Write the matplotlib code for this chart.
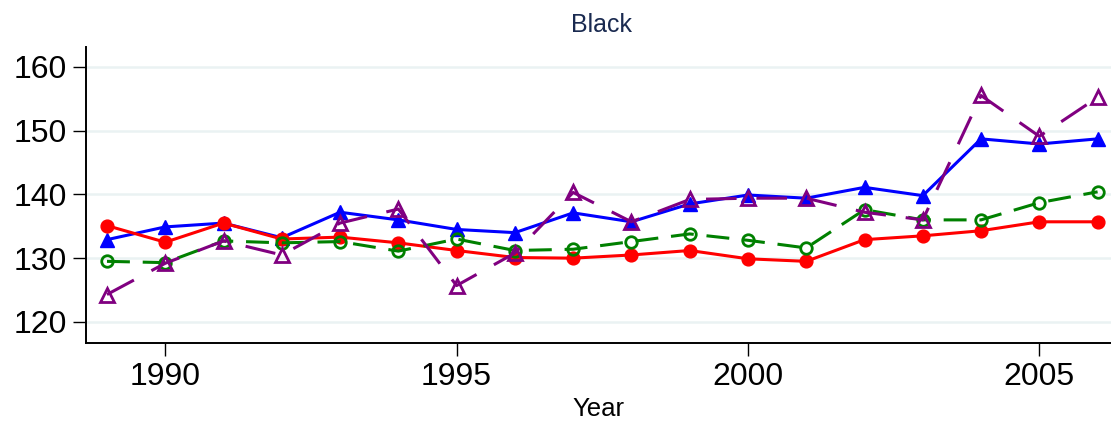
import matplotlib
matplotlib.use("Agg")
import matplotlib.pyplot as plt

plt.rcParams['font.family'] = ['Liberation Sans', 'DejaVu Sans']

years = list(range(1989, 2007))
blue = [132.9, 134.9, 135.5, 133.2, 137.2, 136.0, 134.5, 134.0, 137.1, 135.7,
        138.5, 139.9, 139.4, 141.1, 139.8, 148.7, 147.9, 148.7]
red = [135.1, 132.5, 135.5, 133.0, 133.3, 132.4, 131.2, 130.1, 130.0, 130.5,
       131.2, 129.9, 129.5, 132.9, 133.5, 134.3, 135.7, 135.7]
green = [129.5, 129.3, 132.7, 132.4, 132.6, 131.1, 133.0, 131.2, 131.4, 132.6,
         133.8, 132.8, 131.6, 137.6, 136.0, 136.0, 138.7, 140.4]
purple = [124.3, 129.2, 132.7, 130.5, 135.5, 137.7, 125.7, 130.8, 140.3, 135.7,
          139.2, 139.4, 139.4, 137.2, 136.0, 155.5, 149.1, 155.2]
yticks = [120, 130, 140, 150, 160]
xticks = [1990, 1995, 2000, 2005]
title = "Black"
xlabel = "Year"

fig = plt.figure(figsize=(11.11, 4.22), dpi=100)
ax = fig.add_axes([0.0774, 0.1872, 0.9226, 0.7014])

lw = 2.2
ax.plot(years, blue, color='#0000ff', lw=lw, marker='^', ms=10.5, mec='#0000ff', mfc='#0000ff', zorder=3)
ax.plot(years, red, color='#ff0000', lw=lw, marker='o', ms=9.2, mec='#ff0000', mfc='#ff0000', zorder=4)
ax.plot(years, green, color='#008000', lw=lw, marker='o', ms=8.3, mec='#008000', mfc='none', mew=2.0,
        dashes=(7.5, 4.2), zorder=5)
ax.plot(years, purple, color='#800080', lw=lw, marker='^', ms=10.5, mec='#800080', mfc='none', mew=2.0,
        dashes=(10, 6.5), zorder=6)

ax.set_xlim(1988.64, 2006.23)
ax.set_ylim(116.7, 163.1)
ax.set_yticks(yticks)
ax.set_xticks(xticks)
ax.grid(axis='y', color='#eaf2f3', lw=1.8, zorder=0)
ax.set_axisbelow(True)

for s in ['top', 'right']:
    ax.spines[s].set_visible(False)
for s in ['left', 'bottom']:
    ax.spines[s].set_linewidth(1.4)
ax.tick_params(axis='both', length=9.5, width=1.0, labelsize=23, pad=4, color='black')
ax.set_xlabel(xlabel, fontsize=18.5, labelpad=4)
ax.set_title(title, fontsize=18, color='#1a2a50', pad=10.5, x=0.503)

fig.savefig("out.png", dpi=100)
